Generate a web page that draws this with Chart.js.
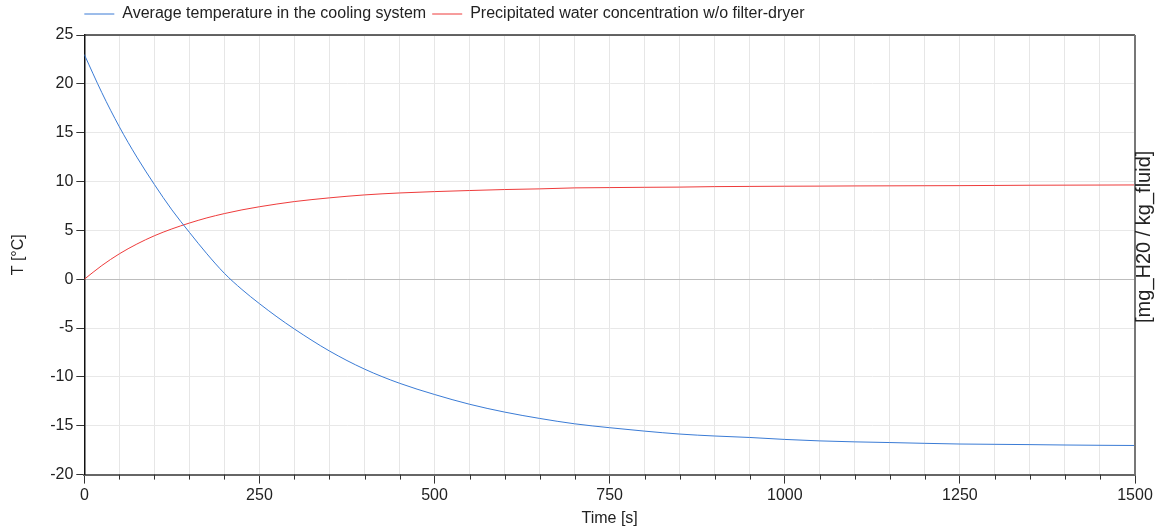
<!DOCTYPE html>
<html>
<head>
<meta charset="utf-8">
<script src="https://cdn.jsdelivr.net/npm/chart.js@4.4.1/dist/chart.umd.min.js"></script>
<style>
  body { margin: 0; background: #fff; }
  #wrap { width: 1155px; height: 532px; }
</style>
</head>
<body>
<div id="wrap"><canvas id="graph_cooling"></canvas></div>
<script>
/*------------------------------*/
/*     DATA                     */
/*------------------------------*/
var times = [0, 25, 50, 75, 100, 125, 150, 175, 200, 225, 250, 275, 300, 350, 400, 450, 500, 550, 600, 650, 700, 750,
             800, 850, 900, 950, 1000, 1050, 1100, 1150, 1200, 1250, 1300, 1350, 1400, 1450, 1500]
var tempCooling = [23.0, 19.1, 15.6, 12.5, 9.7, 7.1, 4.8, 2.6, 0.6, -1.05, -2.5, -3.85, -5.1, -7.35, -9.2, -10.65, -11.8, -12.8, -13.6, -14.25, -14.8, -15.2,
                   -15.55, -15.85, -16.05, -16.2, -16.4, -16.55, -16.65, -16.72, -16.8, -16.87, -16.9, -16.93, -16.97, -17.0, -17.02]
var waterConc = [0, 1.4, 2.6, 3.6, 4.45, 5.15, 5.75, 6.28, 6.72, 7.1, 7.42, 7.7, 7.95, 8.33, 8.63, 8.83, 8.97, 9.08, 9.18, 9.25, 9.35, 9.38,
                 9.41, 9.43, 9.48, 9.5, 9.52, 9.53, 9.55, 9.56, 9.57, 9.58, 9.6, 9.62, 9.63, 9.64, 9.65]
var labelTemp = 'Average temperature in the cooling system'
var labelWater = 'Precipitated water concentration w/o filter-dryer'
var yTitleLeft = 'T [°C]'
var yTitleRight = '[mg_H20 / kg_fluid]'
var xTitle = 'Time [s]'

var FONT = 'Liberation Sans, Arial, sans-serif'
var TXT = '#222'

function toPoints(vals) {
  return vals.map(function (v, i) { return { x: times[i], y: v } })
}

/*------------------------------*/
/*     PLUGIN FRAME             */
/*------------------------------*/
var framePlugin = {
  id: 'frame',
  afterLayout: function (chart) {
    // legend starts at the left of the plot area, a bit higher
    var lg = chart.legend
    var shift = chart.chartArea.left - lg.options.labels.padding - lg.left
    lg.left += shift
    lg.right += shift
    lg.top -= 3
    lg.bottom -= 3
  },
  afterDraw: function (chart) {
    var ctx = chart.ctx
    var a = chart.chartArea
    var xs = chart.scales.x
    ctx.save()
    // minor ticks on the time axis
    ctx.strokeStyle = '#333'
    ctx.lineWidth = 1
    xs.ticks.forEach(function (t) {
      if (t.value % 250 !== 0) {
        var px = Math.round(xs.getPixelForValue(t.value)) + 0.5
        ctx.beginPath()
        ctx.moveTo(px, a.bottom)
        ctx.lineTo(px, a.bottom + 5)
        ctx.stroke()
      }
    })
    // top and right borders
    ctx.strokeStyle = '#333'
    ctx.lineWidth = 1.5
    ctx.beginPath()
    ctx.moveTo(a.left, a.top)
    ctx.lineTo(a.right, a.top)
    ctx.stroke()
    ctx.strokeStyle = '#777'
    ctx.lineWidth = 2
    ctx.beginPath()
    ctx.moveTo(a.right, a.top)
    ctx.lineTo(a.right, a.bottom)
    ctx.stroke()
    // right axis title
    ctx.fillStyle = TXT
    ctx.font = '20px ' + FONT
    ctx.translate(a.right + 9, (a.top + a.bottom) / 2 - 18)
    ctx.rotate(-Math.PI / 2)
    ctx.textAlign = 'center'
    ctx.textBaseline = 'middle'
    ctx.fillText(yTitleRight, 0, 0)
    ctx.restore()
  }
}

/*------------------------------*/
/*     GRAPHIQUE                */
/*------------------------------*/
var ctx_cooling = document.getElementById('graph_cooling').getContext('2d')

var data_cooling = {
  datasets: [
    {
      label: labelTemp,
      data: toPoints(tempCooling),
      borderColor: '#3a7bd5',
      backgroundColor: '#3a7bd5',
      borderWidth: 1,
      pointRadius: 0,
      cubicInterpolationMode: 'monotone',
      fill: false
    },
    {
      label: labelWater,
      data: toPoints(waterConc),
      borderColor: '#ee3b3b',
      backgroundColor: '#ee3b3b',
      borderWidth: 1,
      pointRadius: 0,
      cubicInterpolationMode: 'monotone',
      fill: false
    }
  ]
}

var config_cooling = {
  type: 'line',
  data: data_cooling,
  options: {
    responsive: true,
    maintainAspectRatio: false,
    animation: false,
    layout: { padding: { left: 1, right: 20, top: 3, bottom: 2 } },
    plugins: {
      tooltip: { enabled: false },
      legend: {
        position: 'top',
        align: 'start',
        labels: {
          usePointStyle: true,
          pointStyle: 'line',
          pointStyleWidth: 30,
          boxHeight: 16,
          padding: 6,
          color: TXT,
          font: { family: FONT, size: 16 }
        }
      }
    },
    scales: {
      x: {
        type: 'linear',
        min: 0,
        max: 1500,
        ticks: {
          stepSize: 50,
          autoSkip: false,
          maxRotation: 0,
          padding: 2,
          color: TXT,
          font: { family: FONT, size: 16 },
          callback: function (v) { return v % 250 === 0 ? v : '' }
        },
        grid: {
          color: '#e6e6e6',
          tickLength: 9,
          tickColor: function (c) { return c.tick && c.tick.value % 250 === 0 ? '#333' : 'rgba(0,0,0,0)' }
        },
        border: { color: '#666', width: 2 },
        title: {
          display: true,
          text: xTitle,
          color: TXT,
          font: { family: FONT, size: 16 },
          padding: { top: 2, bottom: 2 }
        }
      },
      y: {
        min: -20,
        max: 25,
        ticks: {
          stepSize: 5,
          padding: 3,
          color: TXT,
          font: { family: FONT, size: 16 }
        },
        grid: {
          color: function (c) { return c.tick && c.tick.value === 0 ? '#bdbdbd' : '#e8e8e8' },
          tickLength: 8,
          tickColor: '#333'
        },
        border: { color: '#111', width: 1.5 },
        title: {
          display: true,
          text: yTitleLeft,
          color: TXT,
          font: { family: FONT, size: 16 },
          padding: { top: 8, bottom: 19 }
        }
      }
    }
  },
  plugins: [framePlugin]
}
var graph_cooling = new Chart(ctx_cooling, config_cooling)
/*------------------------------*/
/*------------------------------*/
</script>
</body>
</html>
